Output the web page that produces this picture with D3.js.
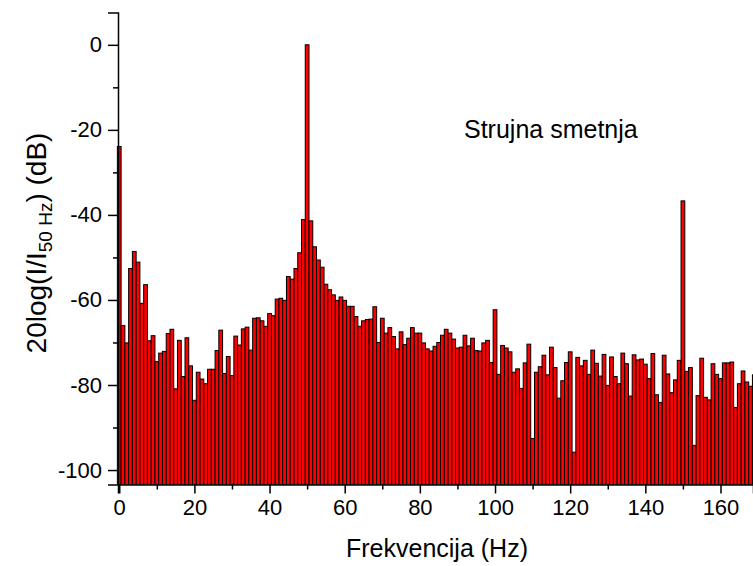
<!DOCTYPE html>
<html>
<head>
<meta charset="utf-8">
<script src="https://cdn.jsdelivr.net/npm/d3@7/dist/d3.min.js"></script>
<style>
html,body{margin:0;padding:0;background:#fff;}
svg{display:block;font-family:"Liberation Sans",Arial,sans-serif;}
</style>
</head>
<body>
<svg id="chart" width="753" height="566"></svg>
<script>
// Spectrum values in dB, one per 1 Hz bin starting at 0 Hz
const levels = [
 -23.9,-66.0,-70.1,-52.6,-48.6,-51.1,-60.8,-56.4,-69.6,-68.4,
 -74.5,-72.5,-72.1,-67.9,-66.9,-80.9,-69.5,-78.0,-68.9,-75.5,
 -83.6,-77.0,-78.6,-79.7,-76.3,-76.3,-71.9,-67.1,-77.3,-73.3,
 -77.8,-68.5,-70.6,-66.8,-66.4,-71.8,-64.3,-64.2,-64.9,-66.2,
 -63.2,-63.7,-59.8,-59.6,-60.1,-54.5,-55.1,-52.6,-48.9,-41.1,
 0.0,-41.4,-47.5,-50.6,-52.3,-56.3,-57.6,-58.8,-60.1,-59.3,
 -60.1,-61.5,-61.5,-63.9,-66.2,-64.9,-64.6,-64.5,-61.6,-70.0,
 -64.3,-67.8,-66.5,-68.6,-71.5,-67.5,-70.5,-69.0,-66.5,-67.8,
 -67.8,-70.1,-71.5,-72.0,-70.9,-70.0,-68.3,-66.9,-67.8,-69.2,
 -71.3,-71.1,-68.3,-70.8,-69.0,-71.9,-72.0,-70.1,-69.5,-74.7,
 -62.3,-77.5,-70.7,-71.3,-72.2,-77.0,-76.2,-80.8,-74.8,-70.4,
 -92.6,-77.0,-75.7,-73.0,-77.6,-71.1,-75.9,-83.1,-79.0,-74.7,
 -72.2,-95.8,-73.5,-75.5,-74.2,-77.5,-71.8,-74.9,-77.9,-72.8,
 -80.1,-73.4,-78.0,-79.7,-72.5,-75.0,-82.6,-72.9,-74.1,-73.9,
 -75.1,-78.5,-72.6,-82.3,-84.1,-73.0,-77.4,-81.8,-78.8,-74.2,
 -36.7,-76.8,-75.9,-94.2,-82.5,-73.7,-82.9,-83.5,-75.0,-77.5,
 -78.5,-74.8,-74.8,-74.6,-85.3,-79.7,-76.7,-79.3,-80.3,-77.6
];
const frequencies = levels.map((_, i) => i);
const xTickMajor = [0, 20, 40, 60, 80, 100, 120, 140, 160];
const xTickMinor = [10, 30, 50, 70, 90, 110, 130, 150];
const yTickMajor = [-100, -80, -60, -40, -20, 0];
const yTickMinor = [-90, -70, -50, -30, -10];
const annotation = "Strujna smetnja";
const xTitle = "Frekvencija (Hz)";

const svg = d3.select("#chart");
const mLeft = 118, mRight = 753, mTop = 12.5, mBottom = 484.5;

const x = d3.scaleLinear().domain([-0.33, 168.65]).range([mLeft, mRight]);
const y = d3.scaleLinear().domain([-103.4, 7.6]).range([mBottom, mTop]);
const bw = x(1) - x(0);

svg.append("defs").append("clipPath").attr("id", "clip")
  .append("rect").attr("x", 0).attr("y", 0).attr("width", mRight).attr("height", mBottom);

const data = frequencies.map((f, i) => ({f, v: levels[i]}));

svg.append("g").attr("clip-path", "url(#clip)")
  .selectAll("rect").data(data).join("rect")
  .attr("x", d => x(d.f) - bw / 2)
  .attr("width", bw)
  .attr("y", d => y(d.v))
  .attr("height", d => y.range()[0] - y(d.v))
  .attr("fill", "#ff0000")
  .attr("stroke", "#000")
  .attr("stroke-width", 1);

// Axes
const fmt = d => String(d);
svg.append("g").attr("transform", `translate(${mLeft},0)`)
  .call(d3.axisLeft(y).tickValues(yTickMajor).tickSize(10).tickPadding(6).tickFormat(fmt));
svg.append("g").attr("transform", `translate(${mLeft},0)`)
  .call(d3.axisLeft(y).tickValues(yTickMinor).tickSize(5).tickFormat(""))
  .select(".domain").remove();
svg.append("g").attr("transform", `translate(0,${mBottom})`)
  .call(d3.axisBottom(x).tickValues(xTickMajor).tickSize(9).tickPadding(6).tickFormat(fmt));
svg.append("g").attr("transform", `translate(0,${mBottom})`)
  .call(d3.axisBottom(x).tickValues(xTickMinor).tickSize(5).tickFormat(""))
  .select(".domain").remove();

svg.selectAll(".domain").attr("stroke", "#000").attr("stroke-width", 1.5);
svg.selectAll(".tick line").attr("stroke", "#000").attr("stroke-width", 1.5);
svg.selectAll(".tick text").attr("font-size", 22).attr("fill", "#000")
  .attr("font-family", "'Liberation Sans', Arial, sans-serif");

// Titles
svg.append("text")
  .attr("x", 437).attr("y", 557)
  .attr("text-anchor", "middle")
  .attr("font-size", 25)
  .text(xTitle);

const yt = svg.append("text")
  .attr("transform", "translate(46,243) rotate(-90)")
  .attr("text-anchor", "middle")
  .attr("font-size", 28);
yt.append("tspan").text("20log(I/I");
yt.append("tspan").attr("font-size", 19).attr("dy", 6).text("50 Hz");
yt.append("tspan").attr("dy", -6).text(") (dB)");

svg.append("text")
  .attr("x", 464).attr("y", 138)
  .attr("font-size", 25)
  .text(annotation);
</script>
</body>
</html>
